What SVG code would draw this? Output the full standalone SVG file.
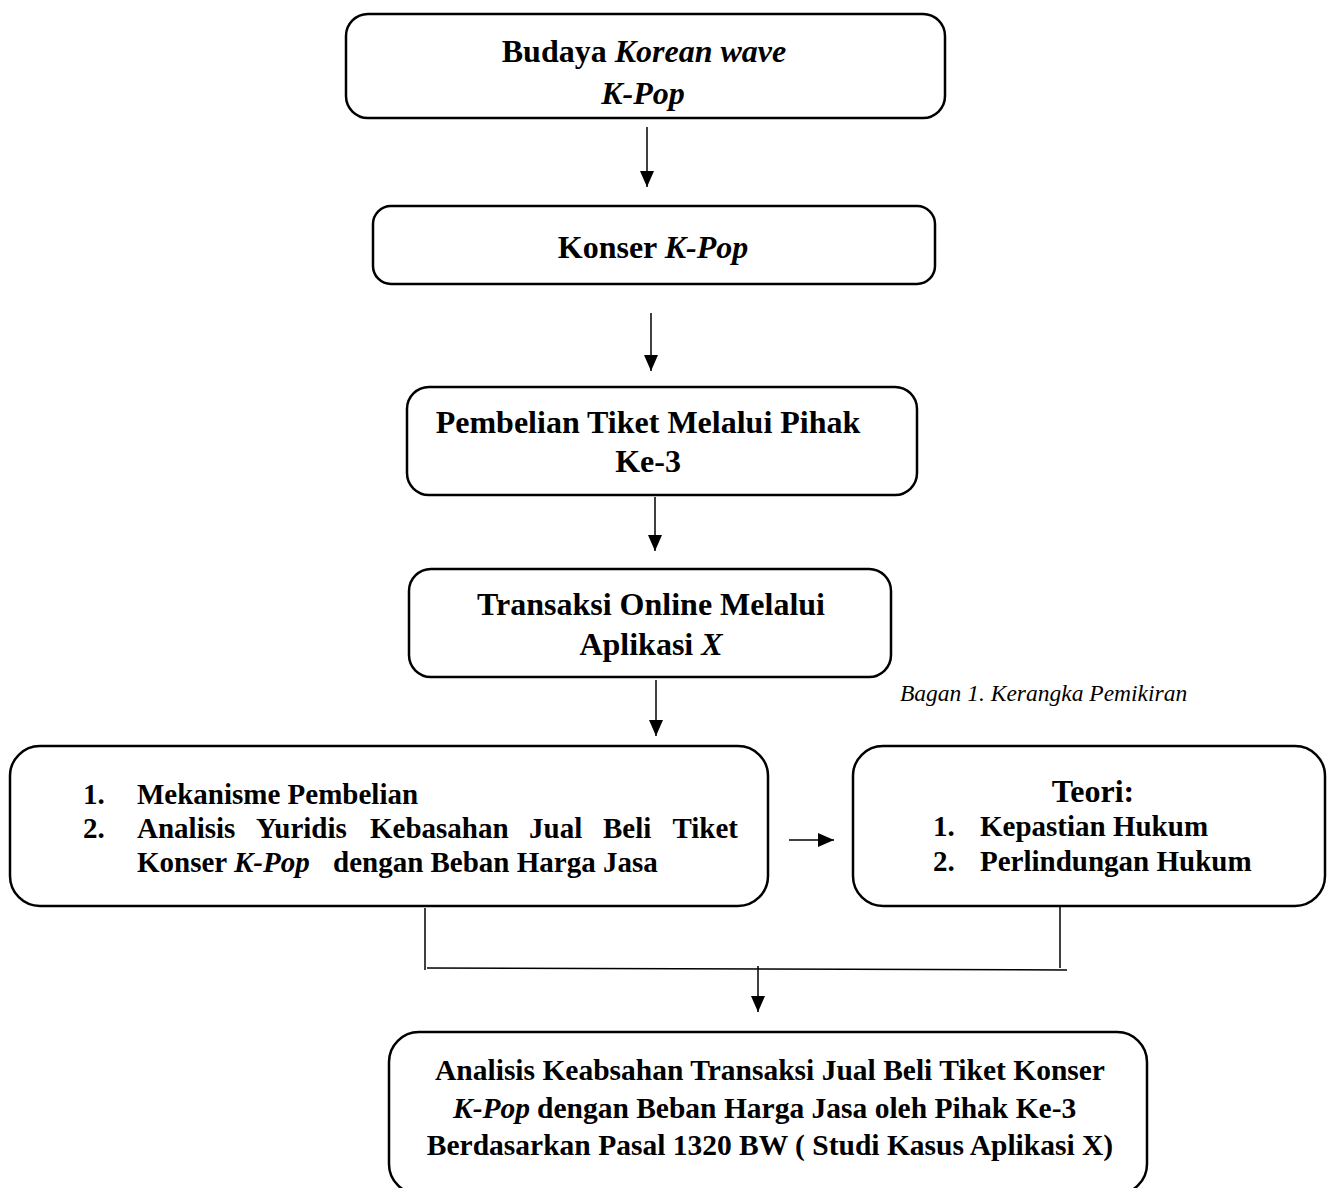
<svg xmlns="http://www.w3.org/2000/svg" width="1328" height="1188" viewBox="0 0 1328 1188">
<style>
.box{fill:#fff;stroke:#000;stroke-width:2.5}
.t{font-family:"Liberation Serif","Times New Roman",serif;font-weight:bold;font-size:29px;fill:#000}
.big{font-size:32px}
.bot{font-size:29.5px}
.c{text-anchor:middle}
.i{font-style:italic}
.cap{font-family:"Liberation Serif","Times New Roman",serif;font-style:italic;font-size:23.5px;fill:#000}
.ln{stroke:#000;stroke-width:1.5;fill:none}
</style>
<defs>
<marker id="ah" markerUnits="userSpaceOnUse" markerWidth="16" markerHeight="16" viewBox="0 0 16 16" refX="16" refY="8" orient="auto">
<path d="M0,1 L16,8 L0,15 Z" fill="#000"/>
</marker>
</defs>
<rect width="1328" height="1188" fill="#fff"/>
<g id="connectors">
<line class="ln" x1="647" y1="127" x2="647" y2="187" marker-end="url(#ah)"/>
<line class="ln" x1="651" y1="313" x2="651" y2="371" marker-end="url(#ah)"/>
<line class="ln" x1="655" y1="497" x2="655" y2="551" marker-end="url(#ah)"/>
<line class="ln" x1="656" y1="680" x2="656" y2="736" marker-end="url(#ah)"/>
<line class="ln" x1="789" y1="840" x2="834" y2="840" marker-end="url(#ah)"/>
<line class="ln" x1="425" y1="908" x2="425" y2="970"/>
<line class="ln" x1="1060" y1="907" x2="1060" y2="968"/>
<line class="ln" x1="427" y1="968" x2="1067" y2="970"/>
<line class="ln" x1="758" y1="966" x2="758" y2="1012" marker-end="url(#ah)"/>
</g>
<g id="node-budaya">
<rect class="box" x="346" y="14" width="599" height="104" rx="22"/>
<text class="t big c" x="644" y="62">Budaya <tspan class="i">Korean wave</tspan></text>
<text class="t big c i" x="643" y="104">K-Pop</text>
</g>
<g id="node-konser">
<rect class="box" x="373" y="206" width="562" height="78" rx="18"/>
<text class="t big c" x="653" y="258">Konser <tspan class="i">K-Pop</tspan></text>
</g>
<g id="node-pembelian">
<rect class="box" x="407" y="387" width="510" height="108" rx="22"/>
<text class="t big c" x="648" y="433">Pembelian Tiket Melalui Pihak</text>
<text class="t big c" x="648" y="472">Ke-3</text>
</g>
<g id="node-transaksi">
<rect class="box" x="409" y="569" width="482" height="108" rx="22"/>
<text class="t big c" x="651" y="615">Transaksi Online Melalui</text>
<text class="t big c" x="651" y="655">Aplikasi <tspan class="i">X</tspan></text>
</g>
<text class="cap" x="900" y="701">Bagan 1. Kerangka Pemikiran</text>
<g id="node-rumusan">
<rect class="box" x="10" y="746" width="758" height="160" rx="30"/>
<text class="t" x="83" y="804">1.</text>
<text class="t" x="137" y="804">Mekanisme Pembelian</text>
<text class="t" x="83" y="838">2.</text>
<text class="t" x="137" y="838">Analisis</text>
<text class="t" x="256" y="838">Yuridis</text>
<text class="t" x="370" y="838">Kebasahan</text>
<text class="t" x="529" y="838">Jual</text>
<text class="t" x="603" y="838">Beli</text>
<text class="t" x="738" y="838" text-anchor="end">Tiket</text>
<text class="t" x="137" y="872">Konser <tspan class="i">K-Pop</tspan></text>
<text class="t" x="333" y="872">dengan Beban Harga Jasa</text>
</g>
<g id="node-teori">
<rect class="box" x="853" y="746" width="472" height="160" rx="30"/>
<text class="t big c" x="1093" y="802">Teori:</text>
<text class="t" x="933" y="836">1.</text>
<text class="t" x="980" y="836">Kepastian Hukum</text>
<text class="t" x="933" y="871">2.</text>
<text class="t" x="980" y="871">Perlindungan Hukum</text>
</g>
<g id="node-analisis">
<rect class="box" x="389" y="1032" width="758" height="162" rx="30"/>
<text class="t bot c" x="770" y="1080">Analisis Keabsahan Transaksi Jual Beli Tiket Konser</text>
<text class="t bot i" x="453" y="1118">K-Pop</text>
<text class="t bot" x="537" y="1118">dengan Beban Harga Jasa oleh Pihak Ke-3</text>
<text class="t bot c" x="770" y="1155">Berdasarkan Pasal 1320 BW ( Studi Kasus Aplikasi X)</text>
</g>
</svg>
